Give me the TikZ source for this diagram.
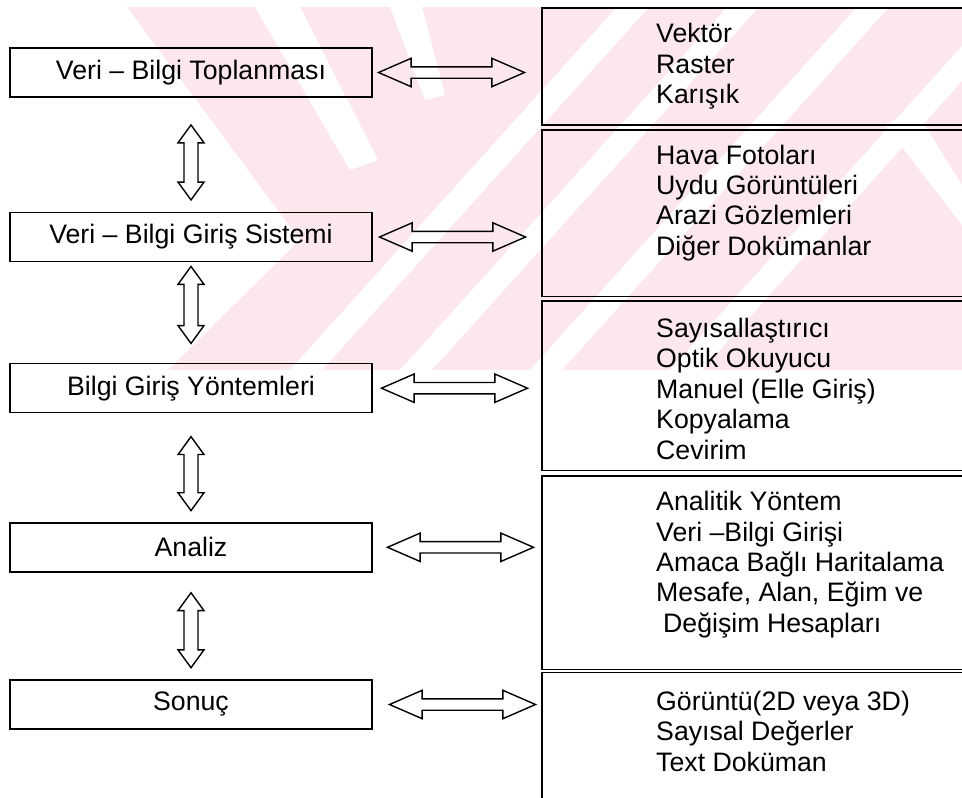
\documentclass[tikz,border=0pt]{standalone}
\usepackage{fontspec}
\setmainfont{Liberation Sans}
\usetikzlibrary{positioning,shapes.arrows}
\definecolor{wmpink}{RGB}{252,232,236}

\begin{document}
\begin{tikzpicture}
[x=1pt, y=-1pt, font=\fontsize{26.7}{30.4}\selectfont,
% STYLES
% The stage style is used for the steps on the left
stage/.style={rectangle, draw, line width=1.5pt, minimum width=362pt, minimum height=49pt, inner sep=0pt},
% The listbox style is used for the open boxes on the right
listbox/.style={rectangle, draw, line width=1.5pt, minimum width=440pt, anchor=north west, inner sep=0pt},
% The items style is used for the texts in the listboxes
items/.style={align=left, inner sep=0pt, anchor=north west},
% hollow two-headed arrows
harrow/.style={double arrow, draw, line width=1.4pt, inner sep=5pt, minimum height=146pt, double arrow head extend=8.5pt, double arrow tip angle=47},
varrow/.style={double arrow, draw, line width=1.4pt, inner sep=6.3pt, minimum height=75pt, double arrow head extend=6pt, double arrow tip angle=72, shape border rotate=90},
% watermark
wm/.style={fill=wmpink, draw=none},
wmgap/.style={fill=white, draw=none}]

\useasboundingbox (0,0) rectangle (962,798);

% Watermark behind the picture
\fill[wm] (127,7) -- (962,7) -- (962,370) -- (168,370) -- (300,240) -- cycle;
\fill[wmgap] (255,7) -- (300,7) -- (378,160) -- (350,170) -- cycle;
\fill[wmgap] (390,7) -- (422,7) -- (445,95) -- (425,100) -- cycle;
\fill[wmgap] (290,370) -- (322,370) -- (649,7) -- (617,7) -- cycle;
\fill[wmgap] (400,370) -- (432,370) -- (759,7) -- (727,7) -- cycle;
\fill[wmgap] (530,370) -- (562,370) -- (889,7) -- (857,7) -- cycle;
\fill[wmgap] (670,370) -- (702,370) -- (962,81) -- (962,46) -- cycle;
\fill[wmgap] (885,125) -- (915,110) -- (962,185) -- (962,225) -- cycle;

% Draw stages
\node [stage] (topl) at (191,72.5) {Veri – Bilgi Toplanması};
\node [stage, below=114pt of topl] (giris) {Veri – Bilgi Giriş Sistemi};
\node [stage, below=100.7pt of giris] (yontem) {Bilgi Giriş Yöntemleri};
\node [stage, below=108.6pt of yontem] (analiz) {Analiz};
\node [stage, below=106.7pt of analiz] (sonuc) {Sonuç};

% Draw listboxes
\node [listbox, minimum height=117.3pt] (veri) at (541,7) {};
\node [listbox, minimum height=166.3pt, below=3.4pt of veri] (kaynak) {};
\node [listbox, minimum height=169.4pt, below=3.3pt of kaynak] (arac) {};
\node [listbox, minimum height=193.3pt, below=4pt of arac] (islem) {};
\node [listbox, minimum height=160pt, below=1.7pt of islem] (urun) {};

%%%%%%%%%%%%%%%
% Texts of the listboxes
\node [items, below right=16.3pt and 115pt of veri.north west] {Vektör\\Raster\\Karışık};
\node [items, below right=15.3pt and 115pt of kaynak.north west] {Hava Fotoları\\Uydu Görüntüleri\\Arazi Gözlemleri\\Diğer Dokümanlar};
\node [items, below right=17.7pt and 115pt of arac.north west] {Sayısallaştırıcı\\Optik Okuyucu\\Manuel (Elle Giriş)\\Kopyalama\\Cevirim};
\node [items, below right=16pt and 115pt of islem.north west] {Analitik Yöntem\\Veri –Bilgi Girişi\\Amaca Bağlı Haritalama\\Mesafe, Alan, Eğim ve\\\hspace*{7pt}Değişim Hesapları};
\node [items, below right=19.3pt and 115pt of urun.north west] {Görüntü(2D veya 3D)\\Sayısal Değerler\\Text Doküman};
%%%%%%%%%%%%%%%

% Draw the arrows between stages and listboxes
\node [harrow, right=4pt of topl] (h1) {};
\node [harrow, right=5pt of giris] (h2) {};
\node [harrow, right=7pt of yontem] (h3) {};
\node [harrow, right=13pt of analiz] (h4) {};
\node [harrow, right=15pt of sonuc] (h5) {};

% Draw the arrows between stages
\node [varrow, below=26pt of topl] (v1) {};
\node [varrow, minimum height=77pt, below=3pt of giris] (v2) {};
\node [varrow, minimum height=74pt, below=22pt of yontem] (v3) {};
\node [varrow, below=19pt of analiz] (v4) {};

\end{tikzpicture}
\end{document}
